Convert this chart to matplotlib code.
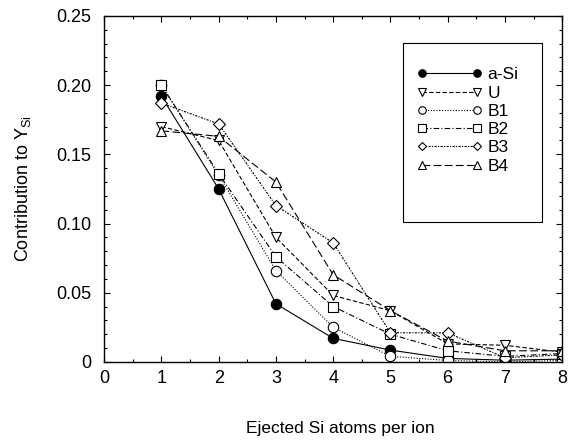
#!/usr/bin/env python3
"""Contribution to Y_Si vs number of ejected Si atoms per ion."""
import matplotlib
matplotlib.use("Agg")
import matplotlib.pyplot as plt
from matplotlib.patches import Rectangle
from matplotlib.ticker import MultipleLocator

plt.rcParams["font.family"] = ["Liberation Sans", "DejaVu Sans"]
plt.rcParams["mathtext.fontset"] = "custom"
plt.rcParams["mathtext.rm"] = "Liberation Sans"
plt.rcParams["mathtext.it"] = "Liberation Sans"

# data
ejected = [1, 2, 3, 4, 5, 6, 7, 8]
a_si = [0.192, 0.125, 0.042, 0.017, 0.0085, 0.0025, 0.0012, 0.002]
u = [0.170, 0.160, 0.090, 0.048, 0.037, 0.013, 0.012, 0.007]
b1 = [0.200, 0.135, 0.066, 0.025, 0.004, 0.001, 0.000, 0.001]
b2 = [0.200, 0.136, 0.076, 0.040, 0.020, 0.008, 0.004, 0.006]
b3 = [0.187, 0.172, 0.113, 0.086, 0.021, 0.021, 0.003, 0.005]
b4 = [0.167, 0.163, 0.130, 0.063, 0.037, 0.015, 0.008, 0.008]
ytick_vals = [0, 0.05, 0.10, 0.15, 0.20, 0.25]
ytick_labels = ["0", "0.05", "0.10", "0.15", "0.20", "0.25"]

SERIES = [
    ("a-Si", a_si, "o", "-", True),
    ("U", u, "v", (0, (4, 2)), False),
    ("B1", b1, "o", (0, (1, 1.5)), False),
    ("B2", b2, "s", (0, (5, 2, 1, 2)), False),
    ("B3", b3, "D", (0, (2, 1.2, 1, 1.2)), False),
    ("B4", b4, "^", (0, (7, 3)), False),
]

fig = plt.figure(figsize=(5.69, 4.44), dpi=100)
ax = fig.add_axes([0.183, 0.185, 0.805, 0.779])

for name, vals, mk, ls, filled in SERIES:
    ms = 6.3 if mk == "D" else 7.5
    ax.plot(ejected, vals, marker=mk, linestyle=ls, color="black",
            linewidth=0.8, markersize=ms,
            markerfacecolor="black" if filled else "white",
            markeredgecolor="black", markeredgewidth=0.8, label=name)

ax.set_xlim(0, 8)
ax.set_ylim(0, 0.25)
ax.xaxis.set_major_locator(MultipleLocator(1))
ax.xaxis.set_minor_locator(MultipleLocator(0.5))
ax.yaxis.set_minor_locator(MultipleLocator(0.01))
ax.set_yticks(ytick_vals)
ax.set_yticklabels(ytick_labels)
ax.tick_params(which="both", direction="in", top=True, right=True,
               labelsize=13, width=0.8)
ax.tick_params(which="major", length=4)
ax.tick_params(which="minor", length=2.5)
ax.tick_params(axis="y", which="major", pad=9)
ax.tick_params(axis="x", which="major", pad=6)
for s in ax.spines.values():
    s.set_linewidth(1.0)

ax.set_xlabel("Ejected Si atoms per ion", fontsize=12.5)
ax.xaxis.set_label_coords(0.515, -0.17)
ax.set_ylabel("Contribution to Y$_{\\rm Si}$", fontsize=13)
ax.yaxis.set_label_coords(-0.155, 0.5)

# legend frame drawn separately (entries sit high in a tall box)
ax.add_patch(Rectangle((0.653, 0.403), 0.303, 0.519, transform=ax.transAxes,
                       fill=True, facecolor="white", edgecolor="black",
                       linewidth=0.8, zorder=4))
leg = ax.legend(loc="upper left", bbox_to_anchor=(0.683, 0.852),
                numpoints=2, markerscale=0.72, handlelength=3.75,
                fontsize=12.5, frameon=False, borderpad=0,
                labelspacing=0.18, handletextpad=0.3, borderaxespad=0)
leg.set_zorder(5)

fig.savefig("out.png", dpi=100)
